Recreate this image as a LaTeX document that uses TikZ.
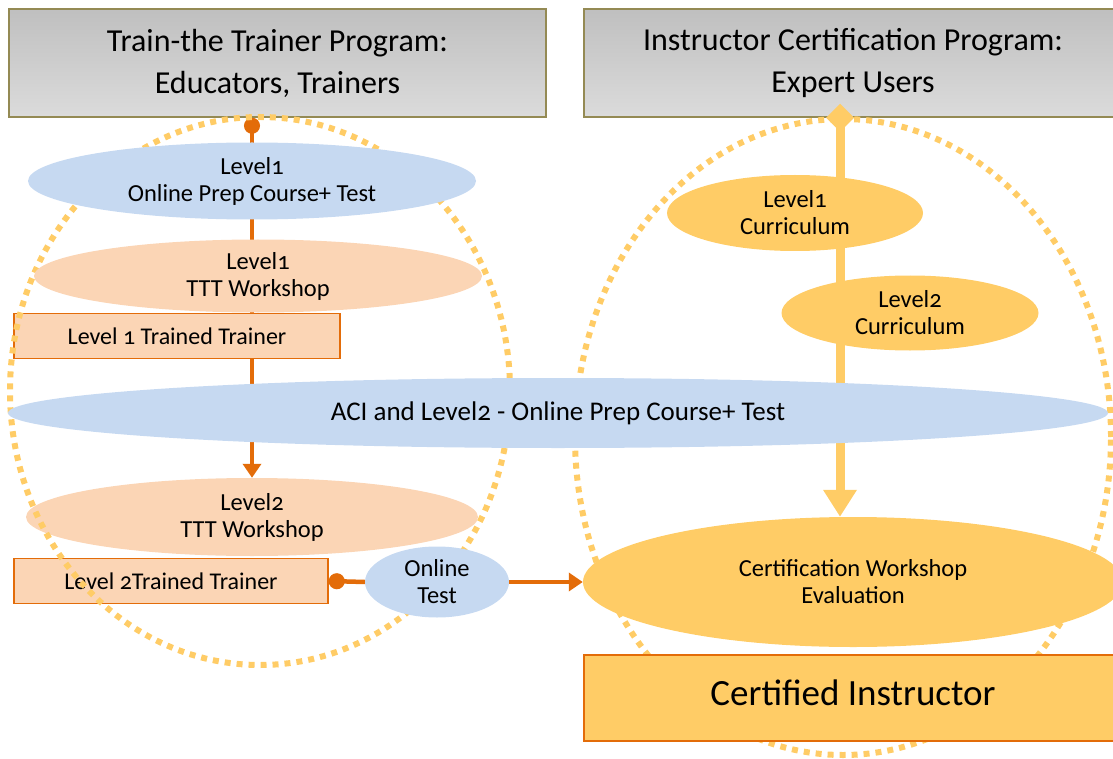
\documentclass[tikz,border=0pt]{standalone}
\usepackage{fontspec}
\setmainfont{Carlito}[Numbers=OldStyle]
\usepackage{tikz}
\usetikzlibrary{calc}
\usetikzlibrary{arrows.meta}
\usetikzlibrary{shapes}
\usetikzlibrary{positioning}
\usetikzlibrary{shapes.geometric}
\definecolor{hdline}{HTML}{948A54}
\definecolor{pblue}{HTML}{C6D9F1}
\definecolor{ppeach}{HTML}{FBD5B5}
\definecolor{porange}{HTML}{E36C09}
\definecolor{pyellow}{HTML}{FFCC66}
\pgfdeclarelayer{back}
\pgfdeclarelayer{mid}
\pgfsetlayers{back,mid,main}
\tikzset{>=latex}
\tikzstyle{head} = [draw=hdline, line width=1.5pt, top color=black!25, bottom color=black!14, minimum height=108pt, align=center, font=\fontsize{32}{42}\selectfont]
\tikzstyle{oval} = [ellipse, inner sep=0, align=center, font=\fontsize{24.5}{27}\selectfont]
\tikzstyle{blueoval} = [oval, fill=pblue]
\tikzstyle{peachoval} = [oval, fill=ppeach]
\tikzstyle{goldoval} = [oval, fill=pyellow]
\tikzstyle{trainbox} = [draw=porange, line width=1.5pt, fill=ppeach, inner sep=0, minimum height=45pt, font=\fontsize{24}{27}\selectfont]
\tikzstyle{ring} = [ellipse, draw=pyellow, line width=6pt, dash pattern=on 6pt off 6pt, inner sep=0]
\tikzstyle{flow} = [draw=porange, line width=4.5pt]
\tikzstyle{feed} = [draw=pyellow, line width=9pt]

\begin{document}
\begin{tikzpicture}[x=1pt, y=-1pt]
\useasboundingbox (0,0) rectangle (1113,759);
\begin{pgfonlayer}{back}
\node [head, minimum width=537pt] (hdL) at (277.5, 63) {Train-the Trainer Program:\\Educators, Trainers};
\node [head, minimum width=538pt] (hdR) at (853, 63) {Instructor Certification Program:\\Expert Users};
\end{pgfonlayer}

\node [peachoval, minimum width=452pt, minimum height=78pt] (tt2) at (252, 517) {Level2\\TTT Workshop};
\node [trainbox, minimum width=314pt] (tr2) at (171, 581) {Level 2Trained Trainer};
\node [trainbox, minimum width=326pt] (tr1) at (177, 336) {Level 1 Trained Trainer};

\node [ring, minimum width=500pt, minimum height=548pt] (ringL) at (260, 391) {};
\node [ring, minimum width=536pt, minimum height=636pt] (ringR) at (843, 437) {};

\node [blueoval, minimum width=448pt, minimum height=77pt] (on1) at (252, 181) {Level1\\Online Prep Course+ Test};
\node [peachoval, minimum width=448pt, minimum height=73pt] (tt1) at (258, 276) {Level1\\TTT Workshop};
\node [blueoval, minimum width=1100pt, minimum height=70pt, font=\fontsize{27}{27}\selectfont] (aci) at (558, 413) {ACI and Level2 - Online Prep Course+ Test};
\node [blueoval, minimum width=144pt, minimum height=71pt] (ot) at (437, 582) {Online\\Test};
\node [goldoval, minimum width=256pt, minimum height=76pt] (cur1) at (795, 213) {Level1\\Curriculum};
\node [goldoval, minimum width=257pt, minimum height=75pt] (cur2) at (910, 313) {Level2\\Curriculum};
\node [goldoval, minimum width=540pt, minimum height=130pt] (cw) at (853, 582) {Certification Workshop\\Evaluation};
\node [draw=porange, line width=1.5pt, fill=pyellow, minimum width=538pt, minimum height=86pt, text depth=10pt, font=\fontsize{37}{40}\selectfont] (ci) at (853, 698) {Certified Instructor};

\begin{pgfonlayer}{mid}
\draw [flow, {Circle[length=16pt]}-{Triangle[length=14pt, width=18pt]}] (hdL.south -| on1.north) -- (on1.north |- tt2.north);
\draw [feed, shorten <=-14pt, {Diamond[length=28pt, width=28pt]}-{Triangle[length=27pt, width=32pt]}] ([xshift=-13pt]hdR.south) -- ([xshift=-13pt]hdR.south |- cw.north);
\end{pgfonlayer}
\draw [flow, {Circle[length=16pt]}-] (tr2.east) -- (ot.west);
\draw [flow, -{Triangle[length=14pt, width=18pt]}] (ot.east) -- (cw.west);
\end{tikzpicture}
\end{document}
